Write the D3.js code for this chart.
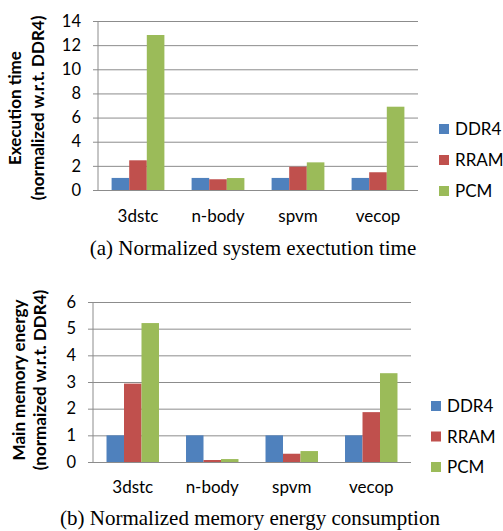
<!DOCTYPE html>
<html>
<head>
<meta charset="utf-8">
<script src="https://cdn.jsdelivr.net/npm/d3@7"></script>
<style>
  body { margin: 0; background: #fff; }
  svg { display: block; }
</style>
</head>
<body>
<svg id="chart" width="503" height="531"></svg>
<script>
// categories and series
const benchmarks = ["3dstc", "n-body", "spvm", "vecop"];
const memories = ["DDR4", "RRAM", "PCM"];
const colors = ["#4F81BD", "#C0504D", "#9BBB59"];

// (a) execution time, normalized to DDR4
const timeDDR4 = [1, 1, 1, 1];
const timeRRAM = [2.46, 0.89, 1.93, 1.47];
const timePCM = [12.84, 0.99, 2.29, 6.9];
const timeTicks = [0, 2, 4, 6, 8, 10, 12, 14];

// (b) main memory energy, normalized to DDR4
const energyDDR4 = [1, 1, 1, 1];
const energyRRAM = [2.94, 0.075, 0.31, 1.87];
const energyPCM = [5.21, 0.11, 0.41, 3.33];
const energyTicks = [0, 1, 2, 3, 4, 5, 6];

const svg = d3.select("#chart");
const sansFont = "Lato, 'Open Sans', sans-serif";

function drawChart(cfg) {
  const g = svg.append("g");
  const series = [cfg.ddr4, cfg.rram, cfg.pcm];

  const x = d3.scaleBand().domain(benchmarks)
    .range([cfg.left, cfg.right]).paddingInner(0.34).paddingOuter(0.17);
  const xs = d3.scaleBand().domain(memories).range([0, x.bandwidth()]);
  const y = d3.scaleLinear().domain([0, d3.max(cfg.ticks)]).range([cfg.bottom, cfg.top]);

  // gridlines + ticks
  g.append("g")
    .attr("transform", `translate(${cfg.left},0)`)
    .call(d3.axisLeft(y).tickValues(cfg.ticks).tickSize(5).tickPadding(12).tickFormat(d3.format("d")))
    .call(a => a.select(".domain").remove())
    .call(a => a.selectAll(".tick line").attr("stroke", "#8c8c8c"))
    .call(a => a.selectAll(".tick").append("line")
      .attr("x1", 0).attr("x2", cfg.right - cfg.left)
      .attr("stroke", "#8c8c8c"))
    .call(a => a.selectAll("text")
      .attr("fill", "#000")
      .style("font-family", sansFont)
      .style("font-size", "16.5px"));

  // vertical axis line
  g.append("line")
    .attr("x1", cfg.left).attr("x2", cfg.left)
    .attr("y1", cfg.top).attr("y2", cfg.bottom)
    .attr("stroke", "#8c8c8c");

  // bars
  benchmarks.forEach((b, i) => {
    memories.forEach((m, j) => {
      g.append("rect")
        .attr("x", x(b) + xs(m))
        .attr("y", y(series[j][i]))
        .attr("width", xs.bandwidth())
        .attr("height", y(0) - y(series[j][i]))
        .attr("fill", colors[j]);
    });
  });

  // category labels
  g.selectAll(".cat")
    .data(benchmarks)
    .enter().append("text")
    .attr("x", d => x(d) + x.bandwidth() / 2)
    .attr("y", cfg.bottom + cfg.labelGap)
    .attr("text-anchor", "middle")
    .style("font-family", sansFont)
    .style("font-size", "17px")
    .text(d => d);

  // y axis title, two lines
  cfg.title.forEach((t, k) => {
    g.append("text")
      .attr("transform", `translate(${cfg.titleX[k]},${cfg.titleY}) rotate(-90)`)
      .attr("text-anchor", "middle")
      .style("font-family", sansFont)
      .style("font-size", "17px")
      .style("font-weight", "bold")
      .text(t);
  });

  // legend
  memories.forEach((m, j) => {
    const ly = cfg.legendY + j * cfg.legendStep;
    g.append("rect")
      .attr("x", cfg.legendX).attr("y", ly)
      .attr("width", 10).attr("height", 10)
      .attr("fill", colors[j]);
    g.append("text")
      .attr("x", cfg.legendX + 16).attr("y", ly + 5)
      .attr("dy", "0.36em")
      .style("font-family", sansFont)
      .style("font-size", "17px")
      .text(m);
  });

  // caption
  g.append("text")
    .attr("x", cfg.captionX).attr("y", cfg.captionY)
    .attr("text-anchor", "middle")
    .style("font-family", "'Liberation Serif', 'Times New Roman', serif")
    .style("font-size", "21px")
    .text(cfg.caption);
}

drawChart({
  ddr4: timeDDR4, rram: timeRRAM, pcm: timePCM, ticks: timeTicks,
  left: 98, right: 418, top: 21, bottom: 190, labelGap: 32,
  title: ["Execution time", "(normalized w.r.t. DDR4)"], titleX: [21, 44], titleY: 108,
  legendX: 439, legendY: 124, legendStep: 31,
  caption: "(a) Normalized system exectution time", captionX: 253, captionY: 255
});

drawChart({
  ddr4: energyDDR4, rram: energyRRAM, pcm: energyPCM, ticks: energyTicks,
  left: 93, right: 411, top: 302, bottom: 462, labelGap: 31,
  title: ["Main memory energy", "(normaized w.r.t. DDR4)"], titleX: [25, 46], titleY: 380,
  legendX: 431, legendY: 401, legendStep: 30.5,
  caption: "(b) Normalized memory energy consumption", captionX: 250, captionY: 525
});
</script>
</body>
</html>
